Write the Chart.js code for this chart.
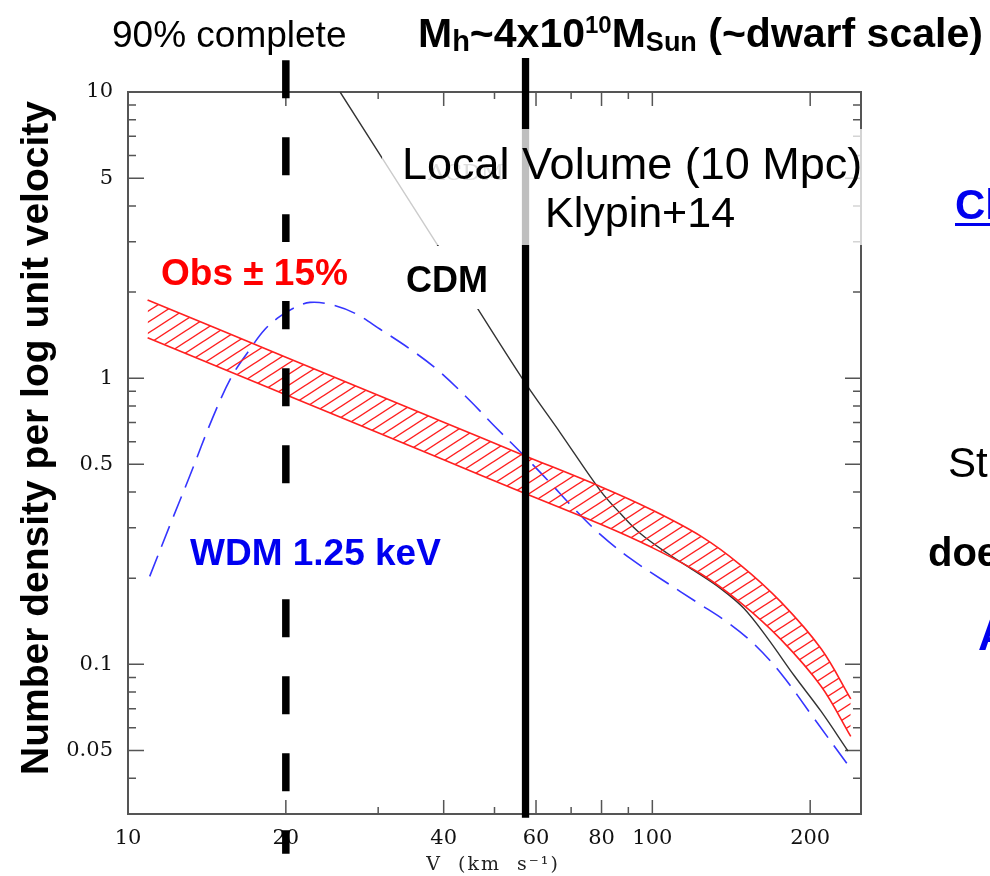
<!DOCTYPE html>
<html>
<head>
<meta charset="utf-8">
<script src="https://cdn.jsdelivr.net/npm/chart.js@4.4.1/dist/chart.umd.min.js"></script>
<style>
  html, body { margin: 0; padding: 0; background: #fff; }
  #wrap { width: 990px; height: 876px; }
</style>
</head>
<body>
<div id="wrap"><canvas id="vf" width="990" height="876"></canvas></div>
<script>
// Velocity function of galaxies: V (km/s) vs number density per log unit velocity
const X_MIN = 10, X_MAX = 250;
const Y_MIN = 0.03, Y_MAX = 10;

const xTickLabels = [10, 20, 40, 60, 80, 100, 200];
const xMinorTicks = [30, 50, 70, 90];
const yTickLabels = [0.05, 0.1, 0.5, 1, 5, 10];
const yMinorTicks = [0.04, 0.06, 0.07, 0.08, 0.09, 0.2, 0.3, 0.4, 0.6, 0.7, 0.8, 0.9, 2, 3, 4, 6, 7, 8, 9];

// observed velocity function, shown as a ±15% band
const obsV = [10.9, 20, 30, 40, 56.3, 79.5, 99.2, 123.7, 147.5, 176, 210, 239];
const obsN = [1.63, 1.03, 0.758, 0.61, 0.471, 0.364, 0.303, 0.244, 0.193, 0.1435, 0.0984, 0.0659];
const OBS_ERR = 0.15;

// CDM prediction
const cdmV = [25.38, 38.89, 56.27, 66.8, 79.64, 87.0, 94.99, 106.96, 119.94, 135.04, 149.43, 166.07, 186.21, 209.7, 236.1];
const cdmN = [10, 2.93, 1.008, 0.643, 0.404, 0.336, 0.286, 0.244, 0.213, 0.184, 0.157, 0.123, 0.0916, 0.0686, 0.0498];

// WDM 1.25 keV prediction
const wdmV = [11.0, 12.01, 13.12, 14.52, 15.78, 17.08, 18.25, 19.49, 20.82, 22.24, 24.29, 27.12, 30.27, 34.99,
              39.41, 44.96, 50.19, 56.02, 63.09, 70.72, 79.64, 90.89, 105.1, 122.1, 139.3, 156.1, 175.9, 203.3, 236.1];
const wdmN = [0.203, 0.305, 0.456, 0.731, 1.016, 1.262, 1.482, 1.644, 1.768, 1.84, 1.811, 1.684, 1.482, 1.242,
              1.049, 0.832, 0.675, 0.552, 0.441, 0.352, 0.284, 0.234, 0.196, 0.164, 0.14, 0.118, 0.093, 0.0648, 0.0445];

// vertical markers (x value, y extent running past the frame)
const completeV = 20;
const completeSpan = [12.92, 0.0218];
const dwarfV = 57.3;
const dwarfSpan = [13.14, 0.0291];

const RED = '#ff2020';
const BLUE = '#3535ff';

// diagonal hatch for the observed band
function hatchPattern() {
  const w = 17, h = 11;
  const c = document.createElement('canvas');
  c.width = w; c.height = h;
  const g = c.getContext('2d');
  g.strokeStyle = RED;
  g.lineWidth = 1.4;
  for (let k = -1; k <= 1; k++) {
    g.beginPath();
    g.moveTo(-w, 2 * h + k * h);
    g.lineTo(2 * w, -h + k * h);
    g.stroke();
  }
  return g.createPattern(c, 'repeat');
}

const pts = (xs, ys, f = 1) => xs.map((v, i) => ({ x: v, y: ys[i] * f }));

// frame with inward ticks on all four sides
const frameTicks = {
  id: 'frameTicks',
  beforeDatasetsDraw(chart) {
    const { ctx, chartArea: a, scales: { x, y } } = chart;
    ctx.save();
    ctx.strokeStyle = '#555';
    ctx.lineWidth = 1.5;
    const mark = (vals, len, horiz) => {
      vals.forEach(v => {
        ctx.beginPath();
        if (horiz) {
          const px = x.getPixelForValue(v);
          ctx.moveTo(px, a.bottom); ctx.lineTo(px, a.bottom - len);
          ctx.moveTo(px, a.top); ctx.lineTo(px, a.top + len);
        } else {
          const py = y.getPixelForValue(v);
          ctx.moveTo(a.left, py); ctx.lineTo(a.left + len, py);
          ctx.moveTo(a.right, py); ctx.lineTo(a.right - len, py);
        }
        ctx.stroke();
      });
    };
    mark(xTickLabels, 14, true);
    mark(xMinorTicks, 7, true);
    mark(yTickLabels, 16, false);
    mark(yMinorTicks, 8, false);
    ctx.lineWidth = 2;
    ctx.strokeRect(a.left, a.top, a.right - a.left, a.bottom - a.top);
    ctx.restore();
  }
};

function labelBox(ctx, x0, y0, x1, y1, fill) {
  ctx.fillStyle = fill;
  ctx.fillRect(x0, y0, x1 - x0, y1 - y0);
}

const SANS = '"Liberation Sans", Arial, sans-serif';

// text laid over the plot (boxes hide what is underneath)
const plotText = {
  id: 'plotText',
  afterDatasetsDraw(chart) {
    const ctx = chart.ctx;
    ctx.save();
    ctx.textBaseline = 'alphabetic';
    ctx.textAlign = 'left';

    ctx.fillStyle = '#777';
    ctx.font = '23px "DejaVu Serif"';
    ctx.fillText('\u039BCDM', 428, 180);

    labelBox(ctx, 382, 129, 876, 245, 'rgba(255,255,255,0.75)');
    ctx.fillStyle = '#000';
    ctx.font = `45px ${SANS}`;
    ctx.fillText('Local Volume (10 Mpc)', 402, 179);
    ctx.font = `43px ${SANS}`;
    ctx.fillText('Klypin+14', 545, 227);

    labelBox(ctx, 155, 242, 350, 301, '#fff');
    ctx.fillStyle = '#ff0000';
    ctx.font = `bold 37px ${SANS}`;
    ctx.fillText('Obs \u00B1 15%', 161, 285);

    labelBox(ctx, 400, 246, 495, 309, '#fff');
    ctx.fillStyle = '#000';
    ctx.font = `bold 36px ${SANS}`;
    ctx.fillText('CDM', 406, 292);

    labelBox(ctx, 182, 522, 450, 578, '#fff');
    ctx.fillStyle = '#0000f0';
    ctx.font = `bold 37px ${SANS}`;
    ctx.fillText('WDM 1.25 keV', 190, 565);
    ctx.restore();
  },
  afterDraw(chart) {
    const ctx = chart.ctx;
    ctx.save();
    ctx.textBaseline = 'alphabetic';
    ctx.textAlign = 'left';
    ctx.fillStyle = '#000';

    ctx.font = `37px ${SANS}`;
    ctx.fillText('90% complete', 112, 47);

    // M_h ~ 4x10^10 M_Sun (~dwarf scale)
    const size = 41;
    const runs = [
      ['M', 1, 0], ['h', 0.7, 4], ['~4x10', 1, 0], ['10', 0.58, -14],
      ['M', 1, 0], ['Sun', 0.67, 4], [' (~dwarf scale)', 1, 0]
    ];
    let cx = 418;
    runs.forEach(([t, s, dy]) => {
      ctx.font = `bold ${Math.round(size * s)}px ${SANS}`;
      ctx.fillText(t, cx, 47 + dy);
      cx += ctx.measureText(t).width;
    });

    // axis titles
    ctx.save();
    ctx.translate(48, 438);
    ctx.rotate(-Math.PI / 2);
    ctx.textAlign = 'center';
    ctx.font = `bold 39px ${SANS}`;
    ctx.fillText('Number density per log unit velocity', 0, 0);
    ctx.restore();

    ctx.textAlign = 'center';
    ctx.fillStyle = '#222';
    ctx.font = '19px "DejaVu Serif", serif';
    ctx.letterSpacing = '2px';
    ctx.fillText('V  (km  s\u207B\u00B9)', 493, 870);
    ctx.letterSpacing = '0px';

    // slide text running off the right edge
    ctx.textAlign = 'left';
    ctx.fillStyle = '#0000ee';
    ctx.font = `bold 42px ${SANS}`;
    ctx.fillText('Cl', 955, 219);
    ctx.fillRect(955, 223, 40, 3);
    ctx.fillStyle = '#000';
    ctx.font = `42px ${SANS}`;
    ctx.fillText('St', 948, 477);
    ctx.font = `bold 40px ${SANS}`;
    ctx.fillText('doe', 928, 566);
    ctx.fillStyle = '#0000ee';
    ctx.font = `bold 44px ${SANS}`;
    ctx.fillText('A', 978, 650);
    ctx.restore();
  }
};

const tickFont = { family: '"DejaVu Serif", serif', size: 21 };
const curve = { pointRadius: 0, fill: false, tension: 0.35 };

new Chart(document.getElementById('vf'), {
  type: 'line',
  data: {
    datasets: [
      {
        label: 'dwarf scale',
        data: [{ x: dwarfV, y: dwarfSpan[0] }, { x: dwarfV, y: dwarfSpan[1] }],
        borderColor: '#000', borderWidth: 7.3, borderCapStyle: 'butt',
        pointRadius: 0, clip: false,
      },
      {
        label: '90% complete',
        data: [{ x: completeV, y: completeSpan[0] }, { x: completeV, y: completeSpan[1] }],
        borderColor: '#000', borderWidth: 7.5, borderDash: [38, 39], borderCapStyle: 'butt',
        pointRadius: 0, clip: false,
      },
      {
        ...curve,
        label: 'Obs +15%',
        data: pts(obsV, obsN, 1 + OBS_ERR),
        borderColor: RED, borderWidth: 1.6,
        backgroundColor: hatchPattern(), fill: '+1',
      },
      {
        ...curve,
        label: 'Obs -15%',
        data: pts(obsV, obsN, 1 - OBS_ERR),
        borderColor: RED, borderWidth: 1.6,
      },
      {
        ...curve,
        label: 'CDM',
        data: pts(cdmV, cdmN),
        borderColor: '#333', borderWidth: 1.4,
      },
      {
        ...curve,
        label: 'WDM 1.25 keV',
        data: pts(wdmV, wdmN),
        borderColor: BLUE, borderWidth: 1.6, borderDash: [22, 10],
      },
    ]
  },
  options: {
    responsive: false,
    animation: false,
    events: [],
    layout: { padding: { left: 0, top: 92, right: 129, bottom: 0 } },
    plugins: { legend: { display: false }, tooltip: { enabled: false } },
    scales: {
      x: {
        type: 'logarithmic', min: X_MIN, max: X_MAX,
        grid: { display: false, drawTicks: false }, border: { display: false },
        afterBuildTicks: s => { s.ticks = xTickLabels.map(v => ({ value: v })); },
        afterFit: s => { s.height = 62; },
        ticks: {
          autoSkip: false, maxRotation: 0, padding: 12, color: '#111', font: tickFont,
          callback: v => String(v),
        },
      },
      y: {
        type: 'logarithmic', min: Y_MIN, max: Y_MAX,
        grid: { display: false, drawTicks: false }, border: { display: false },
        afterBuildTicks: s => { s.ticks = yTickLabels.map(v => ({ value: v })); },
        afterFit: s => { s.width = 128; },
        ticks: {
          autoSkip: false, padding: 15, color: '#111', font: tickFont,
          callback: v => String(v),
        },
      },
    },
  },
  plugins: [frameTicks, plotText],
});
</script>
</body>
</html>
